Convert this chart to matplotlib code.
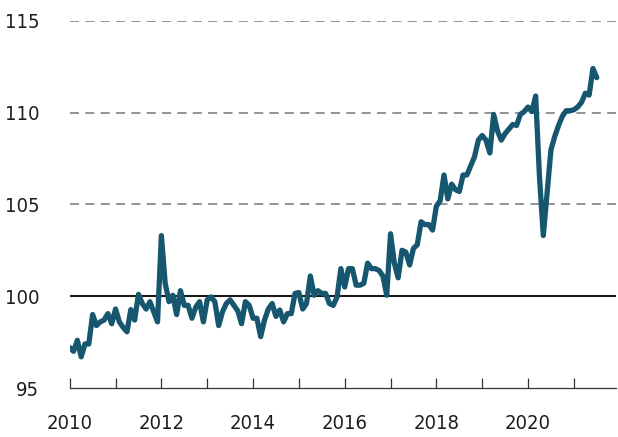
import matplotlib
matplotlib.use("Agg")
import matplotlib.pyplot as plt
import numpy as np

# Monthly index values, Jan 2010 - Jul 2021
values = [
    # 2010
    97.2, 97.0, 97.6, 96.7, 97.4, 97.4, 99.0, 98.4, 98.6, 98.7, 99.05, 98.5,
    # 2011
    99.3, 98.6, 98.3, 98.06, 99.27, 98.7, 100.1, 99.6, 99.3, 99.7, 99.15, 98.6,
    # 2012
    103.3, 100.7, 99.7, 100.05, 99.0, 100.3, 99.5, 99.5, 98.8, 99.4, 99.7, 98.6,
    # 2013
    99.8, 99.96, 99.7, 98.4, 99.15, 99.6, 99.8, 99.5, 99.2, 98.5, 99.7, 99.5,
    # 2014
    98.8, 98.8, 97.8, 98.7, 99.3, 99.6, 98.9, 99.25, 98.6, 99.05, 99.05, 100.15,
    # 2015
    100.2, 99.3, 99.6, 101.1, 100.05, 100.3, 100.15, 100.15, 99.6, 99.5, 99.96, 101.5,
    # 2016
    100.5, 101.5, 101.5, 100.6, 100.6, 100.7, 101.8, 101.5, 101.5, 101.4, 101.1, 100.05,
    # 2017
    103.4, 101.8, 101.0, 102.5, 102.4, 101.7, 102.6, 102.8, 104.05, 103.9, 103.9, 103.6,
    # 2018
    104.9, 105.2, 106.6, 105.3, 106.1, 105.8, 105.7, 106.6, 106.6, 107.1, 107.6, 108.5,
    # 2019
    108.75, 108.5, 107.8, 109.9, 109.0, 108.5, 108.85, 109.1, 109.35, 109.3, 109.9, 110.05,
    # 2020
    110.3, 110.05, 110.9, 106.5, 103.3, 105.65, 107.97, 108.7, 109.3, 109.8, 110.1, 110.1,
    # 2021
    110.15, 110.3, 110.55, 111.05, 110.95, 112.4, 111.9,
]
start_year = 2010
y_ticks = [95, 100, 105, 110, 115]
x_tick_years = list(range(2010, 2022))
x_label_years = [2010, 2012, 2014, 2016, 2018, 2020]

x = start_year + np.arange(len(values)) / 12.0

plt.rcParams['font.family'] = ['DejaVu Sans']
plt.rcParams['font.stretch'] = 'condensed'

fig = plt.figure(figsize=(6.18, 4.37), dpi=100)
ax = fig.add_axes([0.1128, 0.1121, 0.884, 0.8405])

for yv in [105, 110, 115]:
    ax.axhline(yv, color='#8a8a8a', lw=1.3, ls=(0, (5, 3.5)), zorder=1)
ax.axhline(100, color='#1a1a1a', lw=1.5, zorder=2)

ax.plot(x, values, color='#17566f', lw=3.8, solid_joinstyle='round',
        solid_capstyle='round', zorder=3)

ax.set_xlim(2010, 2021.92)
ax.set_ylim(95, 115)

ax.set_yticks(y_ticks)
ax.set_yticklabels([str(v) for v in y_ticks])
ax.set_xticks(x_tick_years)
ax.set_xticklabels([str(y) if y in x_label_years else '' for y in x_tick_years])

for s in ['top', 'right', 'left']:
    ax.spines[s].set_visible(False)
ax.spines['bottom'].set_color('#333333')
ax.spines['bottom'].set_linewidth(0.9)

for lab in ax.get_xticklabels() + ax.get_yticklabels():
    lab.set_fontstretch('condensed')

ax.tick_params(axis='y', length=0, pad=22, labelsize=14.5, labelcolor='#1e1e1e')
ax.tick_params(axis='x', direction='in', length=7, width=0.9, color='#333333',
               pad=19, labelsize=14.5, labelcolor='#1e1e1e')

fig.savefig('out.png', dpi=100)
